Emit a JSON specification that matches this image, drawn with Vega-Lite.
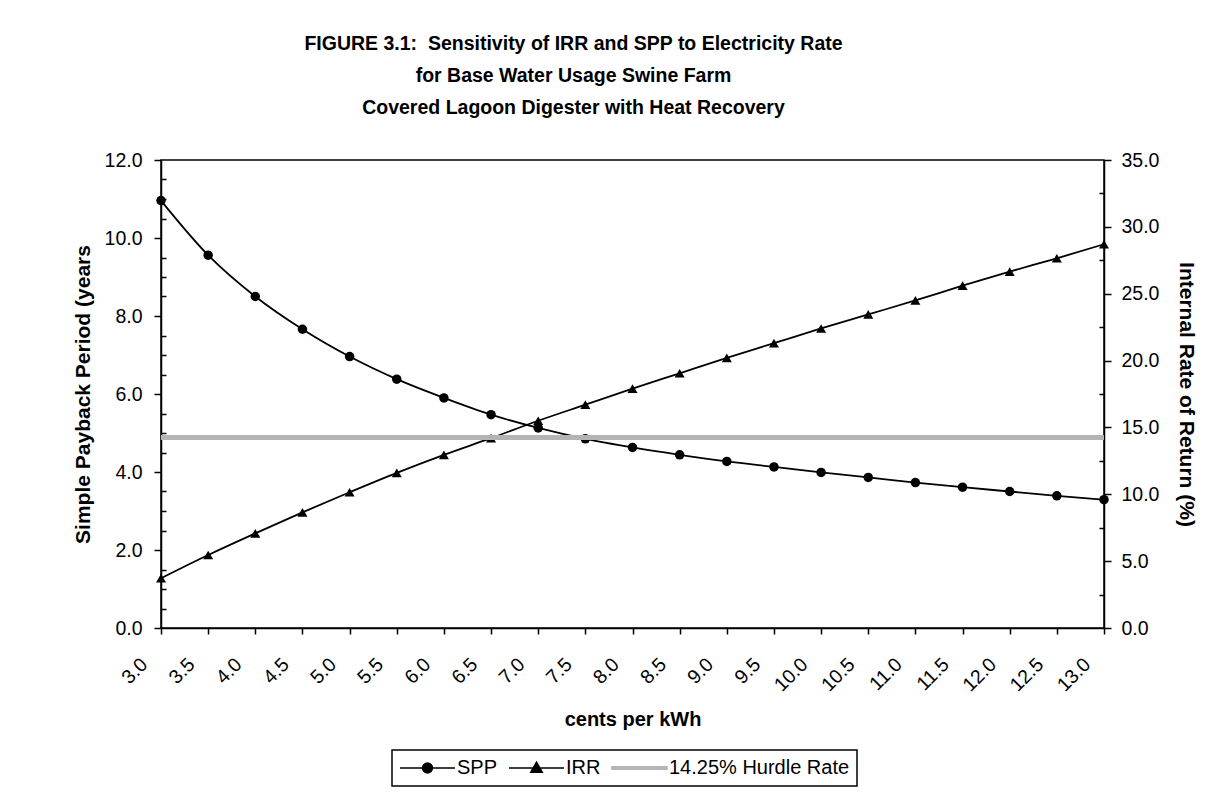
{
  "$schema": "https://vega.github.io/schema/vega-lite/v6.json",
  "width": 943,
  "height": 468,
  "autosize": {"type": "none"},
  "padding": {"left": 161, "top": 160, "right": 115, "bottom": 165},
  "background": "white",
  "config": {
    "font": "Liberation Sans",
    "view": {"stroke": "black", "strokeWidth": 1.5},
    "axis": {"grid": false, "domainColor": "black", "tickColor": "black", "domainWidth": 1.5, "tickWidth": 1.5, "labelColor": "black", "titleColor": "black", "labelFontSize": 19.5, "titleFontSize": 21, "titleFontWeight": "bold"}
  },
  "title": {
    "text": ["FIGURE 3.1:\u00a0 Sensitivity of IRR and SPP to Electricity Rate", "for Base Water Usage Swine Farm", "Covered Lagoon Digester with Heat Recovery"],
    "anchor": "middle",
    "frame": "group",
    "dx": -59,
    "offset": 32,
    "fontSize": 19.5,
    "fontWeight": "bold",
    "lineHeight": 32,
    "color": "black"
  },
  "data": {
    "values": [
      {"rate": 3.0, "series": "SPP", "value": 10.96},
      {"rate": 3.5, "series": "SPP", "value": 9.56},
      {"rate": 4.0, "series": "SPP", "value": 8.50},
      {"rate": 4.5, "series": "SPP", "value": 7.66},
      {"rate": 5.0, "series": "SPP", "value": 6.96},
      {"rate": 5.5, "series": "SPP", "value": 6.38},
      {"rate": 6.0, "series": "SPP", "value": 5.90},
      {"rate": 6.5, "series": "SPP", "value": 5.47},
      {"rate": 7.0, "series": "SPP", "value": 5.13},
      {"rate": 7.5, "series": "SPP", "value": 4.85},
      {"rate": 8.0, "series": "SPP", "value": 4.63},
      {"rate": 8.5, "series": "SPP", "value": 4.44},
      {"rate": 9.0, "series": "SPP", "value": 4.27},
      {"rate": 9.5, "series": "SPP", "value": 4.13},
      {"rate": 10.0, "series": "SPP", "value": 3.99},
      {"rate": 10.5, "series": "SPP", "value": 3.86},
      {"rate": 11.0, "series": "SPP", "value": 3.73},
      {"rate": 11.5, "series": "SPP", "value": 3.61},
      {"rate": 12.0, "series": "SPP", "value": 3.50},
      {"rate": 12.5, "series": "SPP", "value": 3.39},
      {"rate": 13.0, "series": "SPP", "value": 3.29},
      {"rate": 3.0, "series": "IRR", "value": 3.72},
      {"rate": 3.5, "series": "IRR", "value": 5.46},
      {"rate": 4.0, "series": "IRR", "value": 7.08},
      {"rate": 4.5, "series": "IRR", "value": 8.65},
      {"rate": 5.0, "series": "IRR", "value": 10.15},
      {"rate": 5.5, "series": "IRR", "value": 11.6},
      {"rate": 6.0, "series": "IRR", "value": 12.95},
      {"rate": 6.5, "series": "IRR", "value": 14.2},
      {"rate": 7.0, "series": "IRR", "value": 15.5},
      {"rate": 7.5, "series": "IRR", "value": 16.7},
      {"rate": 8.0, "series": "IRR", "value": 17.9},
      {"rate": 8.5, "series": "IRR", "value": 19.05},
      {"rate": 9.0, "series": "IRR", "value": 20.2},
      {"rate": 9.5, "series": "IRR", "value": 21.3},
      {"rate": 10.0, "series": "IRR", "value": 22.4},
      {"rate": 10.5, "series": "IRR", "value": 23.45},
      {"rate": 11.0, "series": "IRR", "value": 24.5},
      {"rate": 11.5, "series": "IRR", "value": 25.6},
      {"rate": 12.0, "series": "IRR", "value": 26.65},
      {"rate": 12.5, "series": "IRR", "value": 27.65},
      {"rate": 13.0, "series": "IRR", "value": 28.7},
      {"series": "14.25% Hurdle Rate", "value": 14.25}
    ]
  },
  "encoding": {
    "x": {
      "field": "rate", "type": "quantitative",
      "scale": {"domain": [3, 13], "nice": false, "zero": false},
      "axis": {
        "title": "cents per kWh",
        "titleFontSize": 20,
        "values": [3, 3.5, 4, 4.5, 5, 5.5, 6, 6.5, 7, 7.5, 8, 8.5, 9, 9.5, 10, 10.5, 11, 11.5, 12, 12.5, 13],
        "format": ".1f",
        "labelAngle": -45,
        "labelAlign": "right",
        "labelBaseline": "middle",
        "labelOffset": -17,
        "tickSize": 6,
        "labelPadding": 27,
        "titlePadding": 15
      }
    },
    "color": {
      "field": "series", "type": "nominal",
      "scale": {"domain": ["SPP", "IRR", "14.25% Hurdle Rate"], "range": ["black", "black", "#b4b4b4"]},
      "legend": {
        "title": null,
        "orient": "none",
        "legendX": 231,
        "legendY": 590,
        "direction": "horizontal",
        "strokeColor": "black",
        "padding": 7,
        "labelFontSize": 20,
        "labelLimit": 400,
        "labelColor": "black",
        "labelOffset": 1,
        "columnPadding": 10,
        "clipHeight": 22,
        "symbolSize": 3025,
        "symbolStrokeWidth": 1.5,
        "symbolType": "M-1,0L1,0",
        "encode": {
          "legend": {"update": {"strokeWidth": {"value": 1.5}}},
          "symbols": {
            "update": {
              "shape": {"signal": "datum.value === 'SPP' ? 'M-1,0L1,0M0.18,0A0.18,0.18,0,1,1,-0.18,0A0.18,0.18,0,1,1,0.18,0Z' : datum.value === 'IRR' ? 'M-1,0L1,0M0,-0.21L0.21,0.15L-0.21,0.15Z' : 'M-1,-0.045L1,-0.045L1,0.045L-1,0.045Z'"},
              "fill": {"signal": "datum.value === '14.25% Hurdle Rate' ? '#b4b4b4' : 'black'"},
              "fillOpacity": {"value": 1},
              "opacity": {"value": 1}
            }
          }
        }
      }
    }
  },
  "layer": [
    {
      "transform": [{"filter": "datum.series === 'SPP'"}],
      "encoding": {
        "y": {
          "field": "value", "type": "quantitative",
          "scale": {"domain": [0, 12], "nice": false},
          "axis": {
            "orient": "left",
            "title": "Simple Payback Period (years",
            "values": [0, 0.5, 1, 1.5, 2, 2.5, 3, 3.5, 4, 4.5, 5, 5.5, 6, 6.5, 7, 7.5, 8, 8.5, 9, 9.5, 10, 10.5, 11, 11.5, 12],
            "labelExpr": "datum.value % 2 === 0 ? format(datum.value, '.1f') : ''",
            "tickSize": {"condition": {"test": "datum.value % 2 === 0", "value": 7}, "value": -5},
            "labelPadding": 12,
            "titlePadding": 11
          }
        }
      },
      "layer": [
        {"mark": {"type": "line", "strokeWidth": 1.8, "interpolate": "monotone"}},
        {"mark": {"type": "point", "shape": "circle", "filled": true, "size": 90, "opacity": 1}}
      ]
    },
    {
      "encoding": {
        "y": {
          "field": "value", "type": "quantitative",
          "scale": {"domain": [0, 35], "nice": false},
          "axis": {
            "orient": "right",
            "title": "Internal Rate of Return (%)",
            "values": [0, 2.5, 5, 7.5, 10, 12.5, 15, 17.5, 20, 22.5, 25, 27.5, 30, 32.5, 35],
            "labelExpr": "datum.value % 5 === 0 ? format(datum.value, '.1f') : ''",
            "tickSize": {"condition": {"test": "datum.value % 5 === 0", "value": 7}, "value": -5},
            "labelPadding": 10,
            "titlePadding": 17
          }
        }
      },
      "layer": [
        {"transform": [{"filter": "datum.series === 'IRR'"}], "mark": {"type": "line", "strokeWidth": 1.8, "interpolate": "monotone"}},
        {"transform": [{"filter": "datum.series === 'IRR'"}], "mark": {"type": "point", "shape": "triangle-up", "filled": true, "size": 100, "opacity": 1}},
        {"transform": [{"filter": "datum.series === '14.25% Hurdle Rate'"}], "mark": {"type": "rule", "strokeWidth": 5}, "encoding": {"x": {"value": 0}, "x2": {"value": "width"}}}
      ]
    }
  ],
  "resolve": {"scale": {"y": "independent"}}
}
